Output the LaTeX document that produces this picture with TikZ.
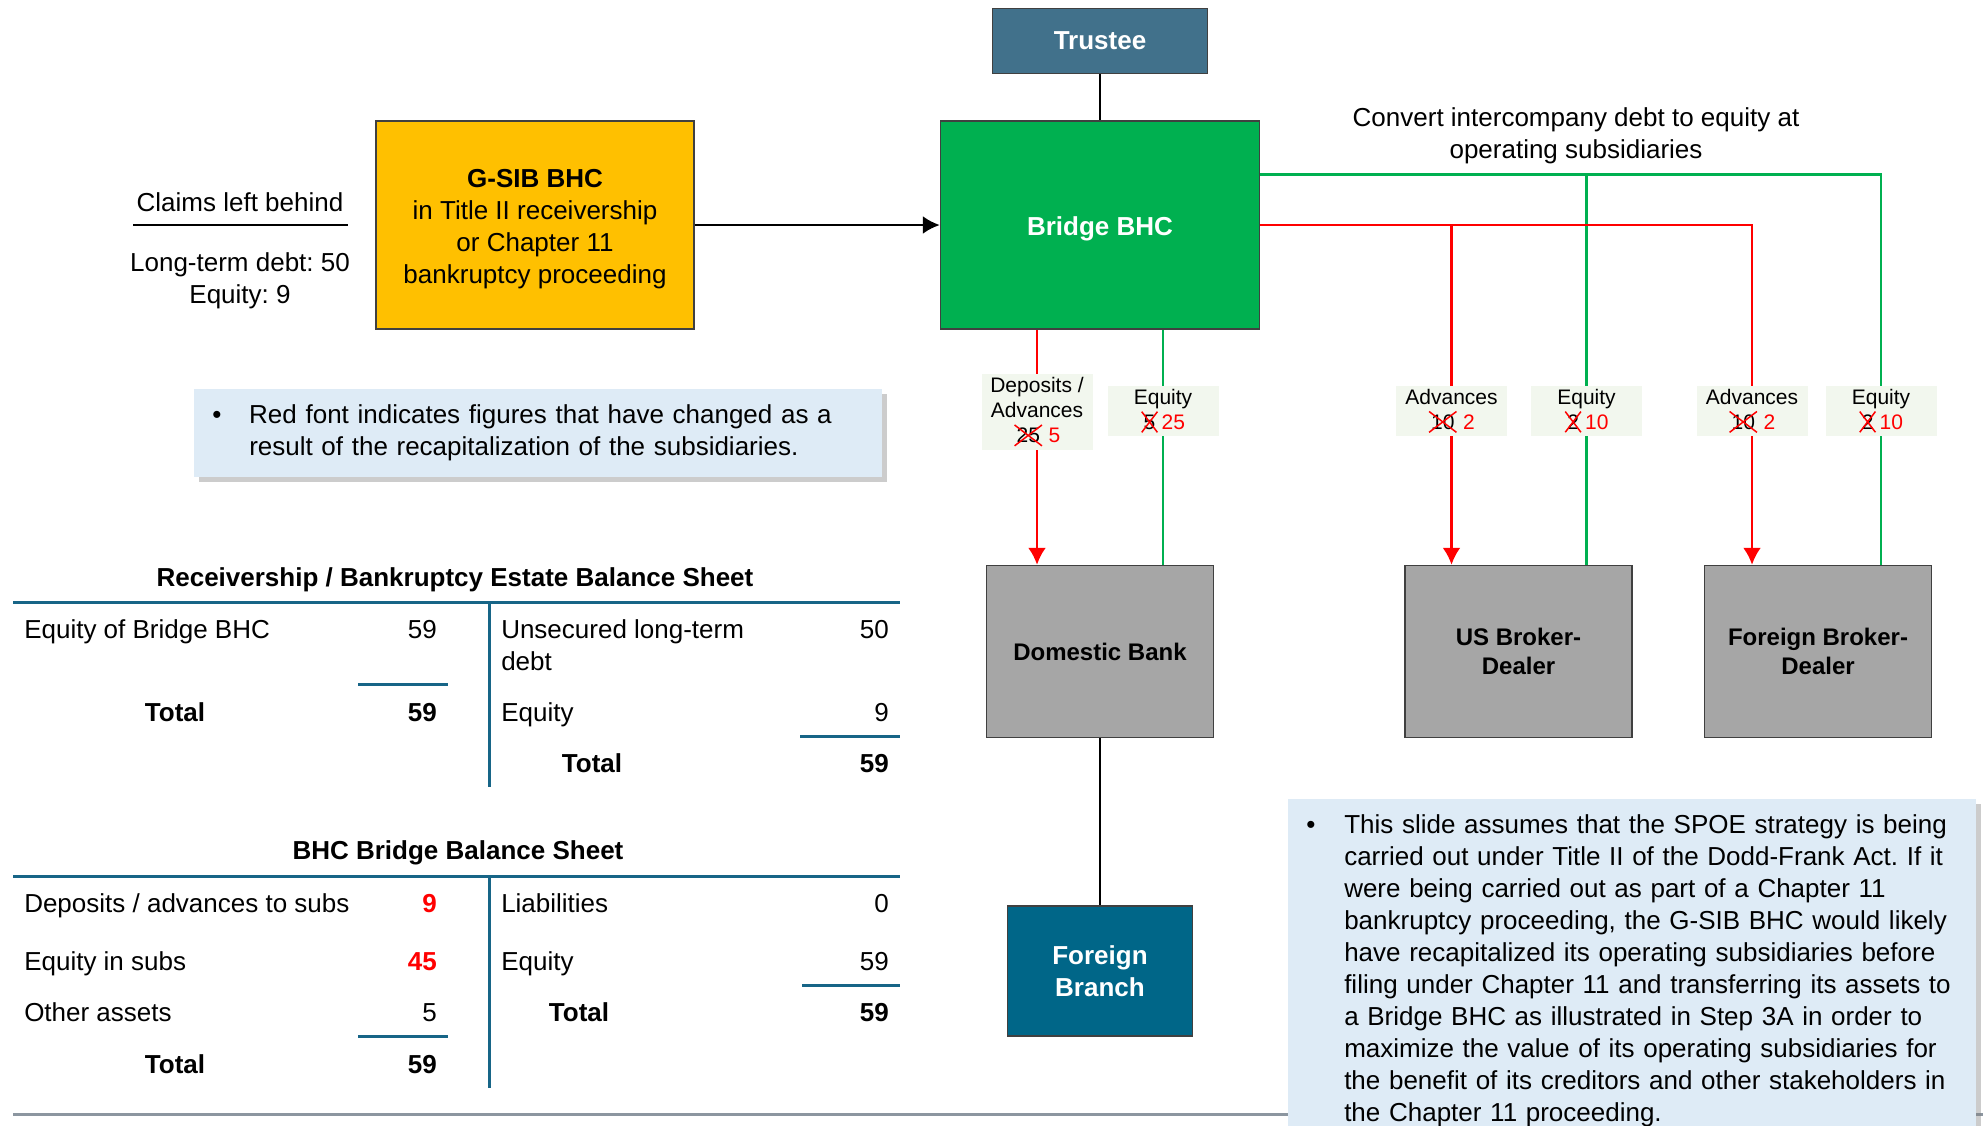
\documentclass[tikz,border=0pt]{standalone}
\usepackage{fontspec}
\setmainfont{Liberation Sans}
\usetikzlibrary{arrows.meta,positioning,shadows}
\frenchspacing

\definecolor{trusteeblue}{RGB}{65,113,139}
\definecolor{bridgegreen}{RGB}{0,176,80}
\definecolor{gsibyellow}{RGB}{255,192,0}
\definecolor{subgray}{RGB}{166,166,166}
\definecolor{branchblue}{RGB}{0,102,136}
\definecolor{boxline}{RGB}{64,64,64}
\definecolor{notefill}{RGB}{222,235,246}
\definecolor{tagfill}{RGB}{242,247,238}
\definecolor{rulecol}{RGB}{23,101,135}
\definecolor{linered}{RGB}{255,0,0}
\definecolor{linegreen}{RGB}{0,176,80}
\definecolor{footgray}{RGB}{140,150,160}

\newcommand{\bigtext}{\fontsize{26}{32}\selectfont}
\newcommand{\tagtext}{\fontsize{21}{25}\selectfont}
% old figure with a red cross over it
\newcommand{\crossed}[1]{\tikz[baseline=(old.base),x=1pt,y=1pt]{\node[inner sep=0pt,outer sep=0pt,minimum size=0pt,draw=none,fill=none,text=black] (old) {#1};\draw[linered,line width=1.5pt] ([xshift=-2pt,yshift=-3pt]old.south west) -- ([xshift=2pt,yshift=3pt]old.north east) ([xshift=-2pt,yshift=3pt]old.north west) -- ([xshift=2pt,yshift=-3pt]old.south east);}}

\tikzset{
  entity/.style={draw=boxline,line width=1.5pt,align=center,text=white,font=\bigtext\bfseries,inner sep=0pt},
  lowtext/.style={execute at begin node={\rule{0pt}{27pt}}},
  subsid/.style={entity,fill=subgray,text=black,minimum width=227pt,minimum height=172pt,font=\fontsize{24}{29}\selectfont\bfseries},
  tag/.style={fill=tagfill,align=center,font=\tagtext,minimum width=111pt,inner sep=3pt},
  note/.style={fill=notefill,align=left,font=\bigtext,anchor=north west,minimum width=688pt,text width=652pt,inner xsep=18pt,drop shadow={shadow xshift=5pt,shadow yshift=-5pt,opacity=0.4}},
  cell/.style={font=\bigtext,inner sep=0pt,text height=21pt,text depth=3pt},
  cellL/.style={cell,anchor=west},
  cellR/.style={cell,anchor=east},
  tablerule/.style={draw=rulecol,line width=3pt},
  redline/.style={draw=linered,line width=2.5pt},
  greenline/.style={draw=linegreen,line width=2.5pt}
}

\begin{document}
\begin{tikzpicture}[x=1pt,y=-1pt,>={Latex[length=17pt,width=18pt]},line width=2.5pt]
\useasboundingbox (0,0) rectangle (1983,1125);

% entities
\node[entity,lowtext,fill=bridgegreen,minimum width=319pt,minimum height=208pt] (bridge) at (1100,225) {Bridge BHC};
\node[entity,fill=trusteeblue,minimum width=215pt,minimum height=65pt] (trustee) [above=46pt of bridge] {Trustee};
\node[entity,fill=gsibyellow,text=black,font=\bigtext,minimum width=318pt,minimum height=208pt] (gsib) [left=245pt of bridge] {\rule{0pt}{27pt}\textbf{G-SIB BHC}\\in Title II receivership\\or Chapter 11\\bankruptcy proceeding};
\node[subsid] (dombank) [below=235pt of bridge] {Domestic Bank};
\node[subsid] (usbd) [right=190pt of dombank] {US Broker-\\Dealer};
\node[subsid] (fbd) [right=71pt of usbd] {Foreign Broker-\\Dealer};
\node[entity,fill=branchblue,minimum width=185pt,minimum height=130pt] (fbranch) [below=167pt of dombank] {Foreign\\Branch};

% connectors
\draw (trustee) -- (bridge);
\draw[->] (gsib) -- (bridge);
\draw (dombank) -- (fbranch);
\coordinate (gout) at ([yshift=-54pt]bridge.north east);
\draw[greenline] (gout) -| ([xshift=63pt]fbd.north);
\draw[greenline] ([xshift=68pt]usbd.north |- gout) -- ([xshift=68pt]usbd.north);
\draw[greenline] ([xshift=63pt]bridge.south) -- ([xshift=63pt]dombank.north);
\draw[redline,->] (bridge.east) -| ([xshift=-66pt]fbd.north);
\draw[redline,->] ([xshift=-67pt]usbd.north |- bridge.east) -- ([xshift=-67pt]usbd.north);
\draw[redline,->] ([xshift=-63pt]bridge.south) -- ([xshift=-63pt]dombank.north);

% tags on the lines
\node[tag] (depdom) at ([xshift=-63pt]dombank.north |- 0,412) {Deposits /\\Advances\\\crossed{25} \textcolor{linered}{5}};
\node[tag] (eqdom) at ([xshift=63pt]dombank.north |- 0,411) {Equity\\\crossed{5}\,\textcolor{linered}{25}};
\node[tag] (advus) at ([xshift=-67pt]usbd.north |- 0,411) {Advances\\\crossed{10} \textcolor{linered}{2}};
\node[tag] (equs) at ([xshift=68pt]usbd.north |- 0,411) {Equity\\\crossed{2}\,\textcolor{linered}{10}};
\node[tag] (advfbd) at ([xshift=-66pt]fbd.north |- 0,411) {Advances\\\crossed{10} \textcolor{linered}{2}};
\node[tag] (eqfbd) at ([xshift=63pt]fbd.north |- 0,411) {Equity\\\crossed{2}\,\textcolor{linered}{10}};

\node[font=\bigtext,align=center] (convert) at (1576,136) {Convert intercompany debt to equity at\\operating subsidiaries};

% claims left behind
\node[font=\bigtext] (claims) at (240,202) {Claims left behind};
\draw (133,225) -- (348,225);
\node[font=\bigtext,align=center] (claimsval) at (240,281) {Long-term debt: 50\\Equity: 9};

% notes
\node[note,minimum height=88pt] (rednote) at (193,388) {\makebox[37pt][l]{\textbullet}Red font indicates figures that have changed as a\\\hspace*{37pt}result of the recapitalization of the subsidiaries.};
\draw[line width=3pt,footgray] (13,1114) -- (1983,1114);
\node[note,inner ysep=15pt] (spoenote) at (1287,798) {\makebox[38pt][l]{\textbullet}This slide assumes that the SPOE strategy is being\\
\hspace*{38pt}carried out under Title II of the Dodd-Frank Act. If it\\
\hspace*{38pt}were being carried out as part of a Chapter 11\\
\hspace*{38pt}bankruptcy proceeding, the G-SIB BHC would likely\\
\hspace*{38pt}have recapitalized its operating subsidiaries before\\
\hspace*{38pt}filing under Chapter 11 and transferring its assets to\\
\hspace*{38pt}a Bridge BHC as illustrated in Step 3A in order to\\
\hspace*{38pt}maximize the value of its operating subsidiaries for\\
\hspace*{38pt}the benefit of its creditors and other stakeholders in\\
\hspace*{38pt}the Chapter 11 proceeding.};

% receivership balance sheet
\node[font=\bigtext\bfseries] (bs1title) at (455,580) {Receivership / Bankruptcy Estate Balance Sheet};
\draw[tablerule] (13,602) -- (900,602);
\draw[tablerule] (489,602) -- (489,787);
\node[cellL] (bs1eq) at (23,629) {Equity of Bridge BHC};
\node[cellR] (bs1eqv) at (438,629) {59};
\draw[tablerule] (358,684) -- (448,684);
\node[cell] (bs1tot) at (175,712) {\bfseries Total};
\node[cellR] (bs1totv) at (438,712) {\bfseries 59};
\node[font=\bigtext,align=left,anchor=north west,inner sep=0pt] (bs1debt) at (500,618) {Unsecured long-term\\debt};
\node[cellR] (bs1debtv) at (890,629) {50};
\node[cellL] (bs1req) at (500,712) {Equity};
\node[cellR] (bs1reqv) at (890,712) {9};
\draw[tablerule] (800,736) -- (900,736);
\node[cell] (bs1rtot) at (592,763) {\bfseries Total};
\node[cellR] (bs1rtotv) at (890,763) {\bfseries 59};

% bridge balance sheet
\node[font=\bigtext\bfseries] (bs2title) at (458,853) {BHC Bridge Balance Sheet};
\draw[tablerule] (13,876) -- (900,876);
\draw[tablerule] (489,876) -- (489,1088);
\node[cellL] (bs2dep) at (23,903) {Deposits / advances to subs};
\node[cellR,text=linered] (bs2depv) at (438,903) {\bfseries 9};
\node[cellL] (bs2eq) at (23,961) {Equity in subs};
\node[cellR,text=linered] (bs2eqv) at (438,961) {\bfseries 45};
\node[cellL] (bs2oth) at (23,1012) {Other assets};
\node[cellR] (bs2othv) at (438,1012) {5};
\draw[tablerule] (358,1036) -- (448,1036);
\node[cell] (bs2tot) at (175,1064) {\bfseries Total};
\node[cellR] (bs2totv) at (438,1064) {\bfseries 59};
\node[cellL] (bs2liab) at (500,903) {Liabilities};
\node[cellR] (bs2liabv) at (890,903) {0};
\node[cellL] (bs2req) at (500,961) {Equity};
\node[cellR] (bs2reqv) at (890,961) {59};
\draw[tablerule] (802,985) -- (900,985);
\node[cell] (bs2rtot) at (579,1012) {\bfseries Total};
\node[cellR] (bs2rtotv) at (890,1012) {\bfseries 59};
\end{tikzpicture}
\end{document}
